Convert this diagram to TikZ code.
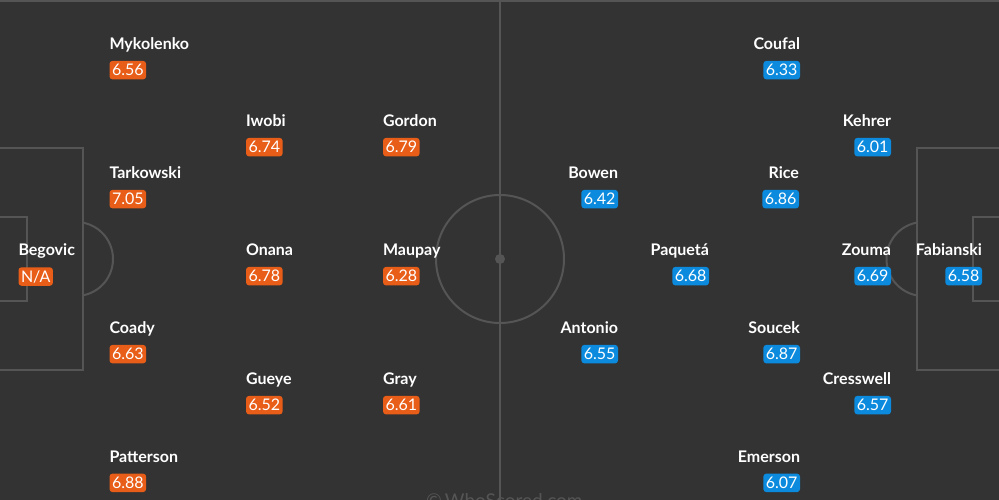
\documentclass[tikz,border=0pt]{standalone}
\usepackage{fontspec}
\setmainfont{Lato}
\usepackage{tikz}
\usetikzlibrary{positioning}
\tikzset{>=stealth}
\definecolor{pitchbg}{HTML}{333333}
\definecolor{pitchline}{HTML}{555555}
\definecolor{homeorange}{HTML}{E85D17}
\definecolor{awayblue}{HTML}{0C8BDE}
\tikzset{
    pname/.style={text=white, font=\fontsize{16}{16}\selectfont\bfseries, inner sep=0pt},
    rating/.style={text=white, font=\fontsize{16}{16}\selectfont, rounded corners=3pt,
        inner xsep=2.5pt, inner ysep=0pt, minimum height=18.5pt, text height=11.5pt, text depth=0pt},
    hrate/.style={rating, fill=homeorange},
    arate/.style={rating, fill=awayblue},
}

\begin{document}
\begin{tikzpicture}[x=1pt, y=-1pt, line width=2pt]
    \fill[pitchbg](0,0) rectangle (999,500);
    \useasboundingbox(0,0) rectangle (999,500);
    \begin{scope}
        \clip(0,0) rectangle (999,500);
        % pitch markings
        \draw[pitchline](-5,1) rectangle (1004,517);
        \draw[pitchline](500,1)--(500,517);
        \draw[pitchline](500,259) circle (64);
        \fill[pitchline](500,259) circle (5);
        \draw[pitchline](-5,148) rectangle (83,370);
        \draw[pitchline](-5,217) rectangle (27,301);
        \draw[pitchline](916.5,148) rectangle (1004,370);
        \draw[pitchline](972.5,217) rectangle (1004,301);
        \begin{scope}
            \clip(83,0) rectangle (200,500);
            \draw[pitchline](76,259) circle (37);
        \end{scope}
        \begin{scope}
            \clip(800,0) rectangle (916.5,500);
            \draw[pitchline](923.5,259) circle (37);
        \end{scope}
        \node[text=pitchline, font=\fontsize{19}{19}\selectfont, inner sep=0pt, anchor=base west] (wm) at (425,507) {\textcopyright\,WhoScored.com};
    \end{scope}

    % home side
    \node[pname, anchor=base west] (gk) at (17.5,255.3) {Begovic};
    \node[hrate, below=11pt of gk.base west, anchor=north west] (gkr) {N/A};
    \foreach \px/\py/\pn/\pr [count=\i] in {108.5/49.3/Mykolenko/6.56, 245/126.3/Iwobi/6.74, 382/126.3/Gordon/6.79,
        108.5/178.3/Tarkowski/7.05, 245/255.3/Onana/6.78, 382/255.3/Maupay/6.28, 108.5/333.3/Coady/6.63,
        245/384.3/Gueye/6.52, 382/384.3/Gray/6.61, 108.5/462/Patterson/6.88}
    {
        \node[pname, anchor=base west] (h\i) at (\px,\py) {\pn};
        \node[hrate, below=10.6pt of h\i.base west, anchor=north west] (hr\i) {\pr};
    }

    % away side
    \foreach \px/\py/\pn/\pr [count=\i] in {801/49.3/Coufal/6.33, 892/126.3/Kehrer/6.01, 619/178.3/Bowen/6.42,
        800/178.3/Rice/6.86, 710/255.3/Paquetá/6.68, 892/255.3/Zouma/6.69, 983/255.3/Fabianski/6.58,
        619/333.3/Antonio/6.55, 801/333.3/Soucek/6.87, 892/384.3/Cresswell/6.57, 801/462/Emerson/6.07}
    {
        \node[pname, anchor=base east] (a\i) at (\px,\py) {\pn};
        \node[arate, below=10.6pt of a\i.base east, anchor=north east] (ar\i) {\pr};
    }
\end{tikzpicture}
\end{document}
